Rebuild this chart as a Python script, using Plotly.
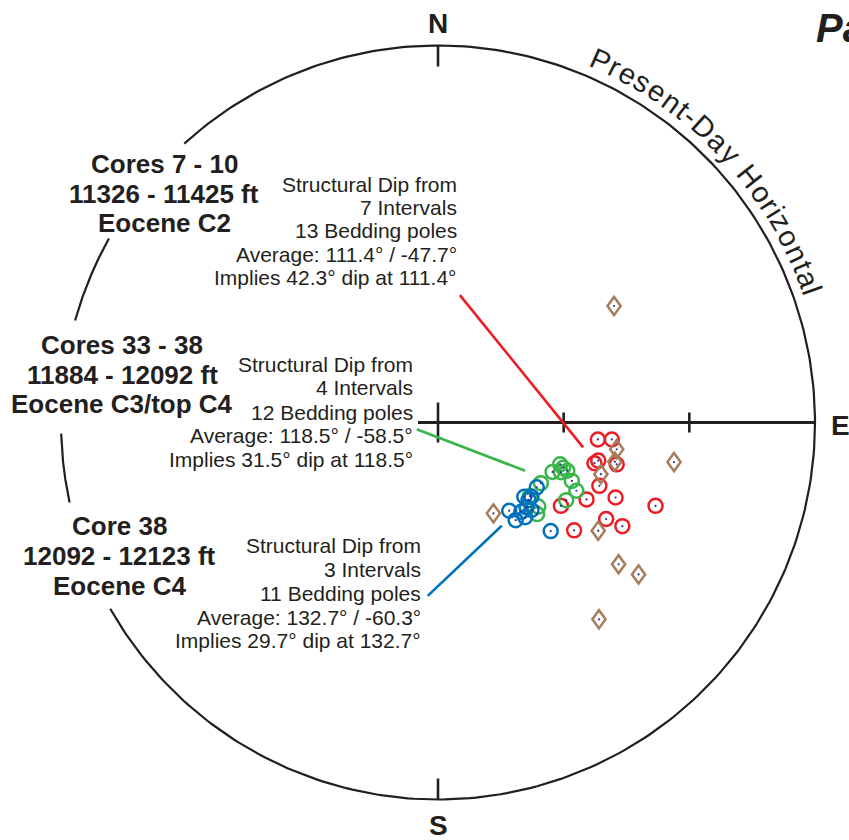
import numpy as np
import plotly.graph_objects as go

# ---------------- data (net units: east, north; primitive radius = 1) -------------
red_x = [0.424, 0.461, 0.415, 0.425, 0.474, 0.428, 0.394, 0.471, 0.577, 0.326, 0.446, 0.489, 0.361]
red_y = [-0.045, -0.045, -0.108, -0.101, -0.111, -0.168, -0.204, -0.199, -0.221, -0.221, -0.256, -0.275, -0.286]

green_x = [0.324, 0.304, 0.326, 0.343, 0.355, 0.367, 0.340, 0.273, 0.244, 0.266, 0.263, 0.332]
green_y = [-0.111, -0.131, -0.132, -0.128, -0.155, -0.181, -0.206, -0.161, -0.195, -0.223, -0.243, -0.120]

blue_x = [0.262, 0.229, 0.248, 0.240, 0.189, 0.235, 0.206, 0.231, 0.248, 0.299, 0.221]
blue_y = [-0.172, -0.197, -0.197, -0.206, -0.234, -0.225, -0.259, -0.251, -0.232, -0.288, -0.237]

brown_x = [0.467, 0.626, 0.474, 0.469, 0.432, 0.147, 0.425, 0.479, 0.532, 0.427]
brown_y = [0.309, -0.105, -0.071, -0.104, -0.137, -0.241, -0.287, -0.376, -0.403, -0.522]

# leader lines (start at text, end near cluster)
red_lead_x = [0.058, 0.385]
red_lead_y = [0.338, -0.066]
green_lead_x = [-0.0565, 0.231]
green_lead_y = [-0.018, -0.128]
blue_lead_x = [-0.0273, 0.169]
blue_lead_y = [-0.460, -0.274]

red_text = ["Structural Dip from", "7 Intervals", "13 Bedding poles",
            "Average: 111.4° / -47.7°", "Implies 42.3° dip at 111.4°"]
green_text = ["Structural Dip from", "4 Intervals", "12 Bedding poles",
              "Average: 118.5° / -58.5°", "Implies 31.5° dip at 118.5°"]
blue_text = ["Structural Dip from", "3 Intervals", "11 Bedding poles",
             "Average: 132.7° / -60.3°", "Implies 29.7° dip at 132.7°"]
core_text_1 = ["Cores 7 - 10", "11326 - 11425 ft", "Eocene C2"]
core_text_2 = ["Cores 33 - 38", "11884 - 12092 ft", "Eocene C3/top C4"]
core_text_3 = ["Core 38", "12092 - 12123 ft", "Eocene C4"]
arc_label = "Present-Day Horizontal"

# ---------------- layout constants -----------------
W, H = 849, 840
CX, CY, R = 438.0, 422.5, 377.0
RED = "#ED1C24"
GREEN = "#39B54A"
BLUE = "#0072BC"
BROWN = "#A67C5B"
INK = "#231F20"
DOT = "#2E3192"
FONT = "Liberation Sans, Arial, sans-serif"

xr = [-CX / R, (W - CX) / R]
yr = [(CY - H) / R, CY / R]

fig = go.Figure()

def arc(a0, a1):
    t = np.radians(np.linspace(a0, a1, 300))
    return np.sin(t), np.cos(t)

for a0, a1 in [(317.7, 600.4), (257.75, 268.3), (285.7, 299.2)]:
    ax, ay = arc(a0, a1)
    fig.add_trace(go.Scatter(x=ax, y=ay, mode="lines", line=dict(color=INK, width=2.2),
                             hoverinfo="skip", showlegend=False))

# axis line and ticks
tk = 10 / R
fig.add_trace(go.Scatter(x=[-20 / R, 1.0], y=[0, 0], mode="lines",
                         line=dict(color=INK, width=3), hoverinfo="skip", showlegend=False))
tick_x, tick_y = [], []
for tx, h in [(0, 20 / R), (1 / 3, tk), (2 / 3, tk)]:
    tick_x += [tx, tx, None]
    tick_y += [-h, h, None]
tick_x += [0, 0, None, 0, 0]
tick_y += [1, 1 - 21 / R, None, -1, -1 + 21 / R]
fig.add_trace(go.Scatter(x=tick_x, y=tick_y, mode="lines",
                         line=dict(color=INK, width=2.6), hoverinfo="skip", showlegend=False))

# leader lines
for lx, ly, c in [(red_lead_x, red_lead_y, RED), (green_lead_x, green_lead_y, GREEN),
                  (blue_lead_x, blue_lead_y, BLUE)]:
    fig.add_trace(go.Scatter(x=lx, y=ly, mode="lines", line=dict(color=c, width=2.6),
                             hoverinfo="skip", showlegend=False))

# poles
for px_, py_, c in [(red_x, red_y, RED), (green_x, green_y, GREEN), (blue_x, blue_y, BLUE)]:
    fig.add_trace(go.Scatter(x=px_, y=py_, mode="markers",
                             marker=dict(symbol="circle-open", size=14, color=c,
                                         line=dict(width=2.5, color=c)),
                             hoverinfo="skip", showlegend=False))

# brown diamonds as pixel-sized shapes anchored at data points
for bx, by in zip(brown_x, brown_y):
    fig.add_shape(type="path", xref="x", yref="y", xsizemode="pixel", ysizemode="pixel",
                  xanchor=bx, yanchor=by, path="M0,-9.1 L6.6,0 L0,9.1 L-6.6,0 Z",
                  line=dict(color=BROWN, width=2.5), fillcolor="rgba(0,0,0,0)")

# centre dots
fig.add_trace(go.Scatter(x=red_x + green_x + blue_x + brown_x,
                         y=red_y + green_y + blue_y + brown_y, mode="markers",
                         marker=dict(symbol="circle", size=2.2, color=DOT),
                         hoverinfo="skip", showlegend=False))

ann = []

def txt(s, px, baseline, fs, anchor="right", bold=False, italic=False, angle=0, center=None):
    cy = center if center is not None else baseline - 0.35 * fs
    f = dict(family=FONT, size=fs, color=INK)
    if bold:
        f["weight"] = "bold"
    if italic:
        f["style"] = "italic"
    ann.append(dict(text=s, x=px / W, y=1 - cy / H, xref="paper", yref="paper",
                    xanchor=anchor, yanchor="middle", showarrow=False, font=f,
                    borderpad=0, borderwidth=0, textangle=angle))

for s, b in zip(red_text, [191.7, 215.0, 238.3, 261.7, 285.0]):
    txt(s, 457, b, 21)
for s, b in zip(green_text, [372.0, 395.3, 419.5, 443.3, 466.7]):
    txt(s, 412.5, b, 21)
for s, b in zip(blue_text, [553.3, 576.7, 601.0, 625.0, 648.3]):
    txt(s, 421, b, 21)
for s, b in zip(core_text_1, [173.0, 202.7, 231.7]):
    txt(s, 164, b, 26, anchor="center", bold=True)
for s, b in zip(core_text_2, [354.0, 384.0, 413.0]):
    txt(s, 122, b, 26, anchor="center", bold=True)
for s, b in zip(core_text_3, [535.0, 565.0, 595.0]):
    txt(s, 119, b, 26, anchor="center", bold=True)

txt("N", 438, 33, 28, anchor="center", bold=True)
txt("S", 438, 835, 28, anchor="center", bold=True)
txt("E", 840, 435, 28, anchor="center", bold=True)
txt("Pa", 816, 42, 40, anchor="left", bold=True, italic=True)

# curved label along the primitive
adv = {"P": .667, "r": .333, "e": .556, "s": .5, "n": .556, "t": .278, "-": .333,
       "D": .722, "a": .556, "y": .5, " ": .278, "H": .722, "o": .556, "i": .222,
       "z": .5, "l": .222}
cum = 0.0
centers = []
for ch in arc_label:
    w = adv[ch]
    centers.append(cum + w / 2)
    cum += w
deg_per_em = 4.7
rc = 397.0
for ch, c in zip(arc_label, centers):
    if ch == " ":
        continue
    th = 24.1 + (c - centers[0]) * deg_per_em
    t = np.radians(th)
    px = CX + rc * np.sin(t)
    py = CY - rc * np.cos(t)
    ann.append(dict(text=ch, x=px / W, y=1 - py / H, xref="paper", yref="paper",
                    xanchor="center", yanchor="middle", showarrow=False,
                    font=dict(family=FONT, size=29, color=INK), textangle=th,
                    borderpad=0, borderwidth=0))

fig.update_layout(
    width=W, height=H, margin=dict(l=0, r=0, t=0, b=0),
    paper_bgcolor="white", plot_bgcolor="white",
    xaxis=dict(range=xr, visible=False, fixedrange=True),
    yaxis=dict(range=yr, visible=False, fixedrange=True),
    annotations=ann, showlegend=False,
)
fig.write_html("out.html")
